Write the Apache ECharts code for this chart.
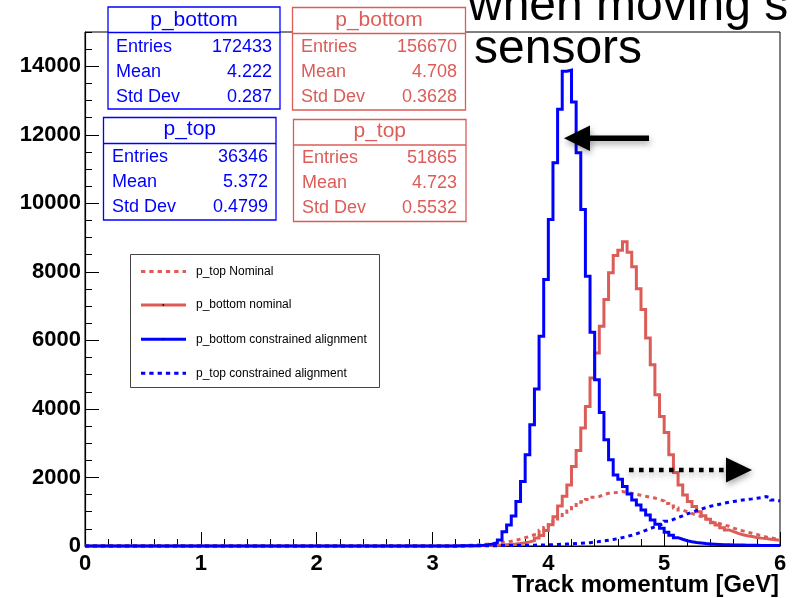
<!DOCTYPE html>
<html>
<head>
<meta charset="utf-8">
<script src="https://cdn.jsdelivr.net/npm/echarts/dist/echarts.min.js"></script>
<style>
  html, body { margin: 0; padding: 0; background: #ffffff; }
  #chart { width: 796px; height: 598px; }
</style>
</head>
<body>
<div id="chart"></div>
<script>
// Histogram binning: 150 bins of 0.04 GeV between 0 and 6 GeV
const xMin = 0;
const xMax = 6;
const binWidth = 0.04;

// Bin contents, one value per bin (bins 0..79 are empty, bins 80..149 cover 3.20-6.00 GeV)
const pTopNominal = [
  0,0,0,0,0,0,0,0,0,0, 0,0,0,0,0,0,0,0,0,0, 0,0,0,0,0,0,0,0,0,0, 0,0,0,0,0,0,0,0,0,0,
  0,0,0,0,0,0,0,0,0,0, 0,0,0,0,0,0,0,0,0,0, 0,0,0,0,0,0,0,0,0,0, 0,0,0,0,0,0,0,0,0,0,
  10, 15, 20, 25, 35, 45, 55, 70, 85, 100,
  120, 140, 170, 200, 240, 280, 330, 390, 460, 540,
  620, 720, 820, 920, 1020, 1120, 1210, 1290, 1360, 1420,
  1445, 1500, 1540, 1550, 1565, 1592, 1560, 1538, 1510, 1480,
  1450, 1426, 1400, 1360, 1310, 1240, 1170, 1110, 1050, 1000,
  950, 900, 862, 800, 750, 690, 650, 610, 578, 520,
  480, 440, 405, 370, 340, 300, 262, 240, 210, 190
];
const pBottomNominal = [
  0,0,0,0,0,0,0,0,0,0, 0,0,0,0,0,0,0,0,0,0, 0,0,0,0,0,0,0,0,0,0, 0,0,0,0,0,0,0,0,0,0,
  0,0,0,0,0,0,0,0,0,0, 0,0,0,0,0,0,0,0,0,0, 0,0,0,0,0,0,0,0,0,0, 0,0,0,0,0,0,0,0,0,0,
  3, 4, 5, 8, 10, 12, 15, 20, 25, 32,
  40, 50, 60, 75, 95, 120, 160, 230, 310, 450,
  620, 857, 1170, 1450, 1783, 2318, 2786, 3440, 4072, 4902,
  5633, 6410, 7191, 7971, 8477, 8632, 8877, 8574, 8147, 7504,
  6899, 6071, 5291, 4414, 3780, 3312, 2660, 2143, 1783, 1491,
  1296, 1150, 1003, 886, 780, 682, 614, 535, 468, 418,
  370, 330, 300, 275, 250, 230, 215, 200, 185, 170
];
const pBottomAligned = [
  0,0,0,0,0,0,0,0,0,0, 0,0,0,0,0,0,0,0,0,0, 0,0,0,0,0,0,0,0,0,0, 0,0,0,0,0,0,0,0,0,0,
  0,0,0,0,0,0,0,0,0,0, 0,0,0,0,0,0,0,0,0,0, 0,0,0,0,0,0,0,0,0,0, 0,0,0,0,0,0,0,0,0,0,
  5, 5, 10, 10, 15, 25, 40, 60, 100, 175,
  418, 614, 877, 1295, 1880, 2660, 3537, 4581, 6118, 7776,
  9530, 11187, 12745, 13856, 13885, 12960, 11478, 9822, 7873, 6236,
  4852, 3897, 3099, 2514, 2075, 1950, 1734, 1520, 1345, 1199,
  1052, 906, 760, 634, 517, 400, 313, 243, 196, 155,
  125, 100, 85, 70, 60, 52, 45, 40, 36, 32,
  30, 27, 25, 22, 20, 18, 16, 15, 14, 12
];
const pTopAligned = [
  0,0,0,0,0,0,0,0,0,0, 0,0,0,0,0,0,0,0,0,0, 0,0,0,0,0,0,0,0,0,0, 0,0,0,0,0,0,0,0,0,0,
  0,0,0,0,0,0,0,0,0,0, 0,0,0,0,0,0,0,0,0,0, 0,0,0,0,0,0,0,0,0,0, 0,0,0,0,0,0,0,0,0,0,
  3, 3, 4, 5, 6, 7, 8, 10, 11, 12,
  14, 15, 17, 19, 21, 23, 25, 28, 31, 35,
  39, 44, 50, 56, 62, 70, 78, 88, 98, 112,
  130, 148, 168, 190, 215, 245, 278, 312, 355, 405,
  455, 510, 560, 605, 660, 720, 775, 830, 880, 935,
  985, 1030, 1080, 1120, 1160, 1190, 1220, 1250, 1275, 1300,
  1320, 1345, 1360, 1375, 1395, 1410, 1440, 1405, 1345, 1315
];

// Axis ticks
const xTicks = ['0', '1', '2', '3', '4', '5', '6'];
const yMax = 15000;
const yMajorStep = 2000;
const yMinorStep = 500;

// Legend and statistics boxes
const legendNames = ['p_top Nominal', 'p_bottom nominal', 'p_bottom constrained alignment', 'p_top constrained alignment'];
const statTitles = ['p_bottom', 'p_bottom', 'p_top', 'p_top'];
const statEntries = ['172433', '156670', '36346', '51865'];
const statMeans = ['4.222', '4.708', '5.372', '4.723'];
const statStdDevs = ['0.287', '0.3628', '0.4799', '0.5532'];
const statRowLabels = ['Entries', 'Mean', 'Std Dev'];
const axisTitle = 'Track momentum [GeV]';
const slideLines = ['when moving s', 'sensors'];

const RED = '#dc5c58';
const BLUE = '#0000ff';
const FONT = "'Liberation Sans', Arial, Helvetica, sans-serif";

// Outline of a histogram: one point per lower bin edge, plus the upper edge of the last bin
function histOutline(counts) {
  const pts = counts.map((v, i) => [xMin + i * binWidth, v]);
  pts.push([xMax, counts[counts.length - 1]]);
  return pts;
}

const seriesDefs = [
  { name: legendNames[0], data: pTopNominal, color: RED, dash: [4, 4] },
  { name: legendNames[1], data: pBottomNominal, color: RED, dash: 'solid' },
  { name: legendNames[2], data: pBottomAligned, color: BLUE, dash: 'solid' },
  { name: legendNames[3], data: pTopAligned, color: BLUE, dash: [4, 4] }
];

const chart = echarts.init(document.getElementById('chart'), null, { renderer: 'canvas' });

// Statistics box drawing helper
function statBox(b, i, color) {
  const els = [];
  els.push({ type: 'rect', shape: { x: b.x, y: b.y, width: b.w, height: b.h },
    style: { fill: '#fff', stroke: color, lineWidth: 1.3 }, z: 100 });
  els.push({ type: 'line', shape: { x1: b.x, y1: b.div, x2: b.x + b.w, y2: b.div },
    style: { stroke: color, lineWidth: 1.3 }, z: 101 });
  els.push({ type: 'text', z: 102, style: { text: statTitles[i], x: b.x + b.w / 2, y: b.titleY,
    align: 'center', verticalAlign: 'middle', font: '21px ' + FONT, fill: color } });
  const vals = [statEntries[i], statMeans[i], statStdDevs[i]];
  for (let r = 0; r < 3; r++) {
    els.push({ type: 'text', z: 102, style: { text: statRowLabels[r], x: b.lx, y: b.rows[r],
      align: 'left', verticalAlign: 'middle', font: '18px ' + FONT, fill: color } });
    els.push({ type: 'text', z: 102, style: { text: vals[r], x: b.rx, y: b.rows[r],
      align: 'right', verticalAlign: 'middle', font: '18px ' + FONT, fill: color } });
  }
  return els;
}

const boxes = [
  { x: 108, y: 7, w: 172, h: 102, div: 32.5, titleY: 20, rows: [47, 72, 97], lx: 116, rx: 272 },
  { x: 292.5, y: 7.5, w: 173, h: 102.5, div: 33.5, titleY: 20.5, rows: [47.5, 72.5, 97.5], lx: 301, rx: 457 },
  { x: 103.5, y: 117.5, w: 172.5, h: 102.5, div: 143.5, titleY: 129.5, rows: [157, 182, 207], lx: 112, rx: 268 },
  { x: 293.5, y: 119.5, w: 172.5, h: 102, div: 145, titleY: 131.5, rows: [158.5, 183.5, 208.5], lx: 302, rx: 457 }
];
const boxColors = [BLUE, RED, BLUE, RED];

let graphics = [];
boxes.forEach((b, i) => { graphics = graphics.concat(statBox(b, i, boxColors[i])); });

// Legend box
const legendRows = [271.5, 305, 339.3, 373.3];
graphics.push({ type: 'rect', z: 100, shape: { x: 130.5, y: 254.5, width: 249, height: 133 },
  style: { fill: '#fff', stroke: '#444', lineWidth: 1 } });
seriesDefs.forEach((s, i) => {
  graphics.push({ type: 'line', z: 101, shape: { x1: 141, y1: legendRows[i], x2: 186, y2: legendRows[i] },
    style: { stroke: s.color, lineWidth: 3, lineDash: s.dash === 'solid' ? null : [4.3, 4], lineCap: 'butt' } });
  if (s.dash === 'solid') {
    graphics.push({ type: 'rect', z: 102, shape: { x: 162.5, y: legendRows[i] - 0.8, width: 1.6, height: 1.6 },
      style: { fill: '#000' } });
  }
  graphics.push({ type: 'text', z: 102, style: { text: s.name, x: 196, y: legendRows[i],
    align: 'left', verticalAlign: 'middle', font: '12px ' + FONT, fill: '#000' } });
});

// Axis title
graphics.push({ type: 'text', z: 102, style: { text: axisTitle, x: 779, y: 585,
  align: 'right', verticalAlign: 'middle', font: 'bold 23.8px ' + FONT, fill: '#000' } });

// Slide caption laid over the plot (first line runs off the top edge)
graphics.push({ type: 'text', z: 102, style: { text: slideLines[0], x: 468, y: -17,
  align: 'left', verticalAlign: 'top', font: '48px ' + FONT, fill: '#000' } });
graphics.push({ type: 'text', z: 102, style: { text: slideLines[1], x: 474, y: 26,
  align: 'left', verticalAlign: 'top', font: '48px ' + FONT, fill: '#000' } });

// Arrows
const shadow = { shadowColor: 'rgba(0,0,0,0.35)', shadowBlur: 6, shadowOffsetX: 1, shadowOffsetY: 3 };
graphics.push({ type: 'rect', z: 103, shape: { x: 587, y: 135.5, width: 62, height: 5.5 },
  style: Object.assign({ fill: '#000' }, shadow) });
graphics.push({ type: 'polygon', z: 103, shape: { points: [[564, 138.3], [590, 125.5], [590, 151]] },
  style: Object.assign({ fill: '#000' }, shadow) });
graphics.push({ type: 'line', z: 103, shape: { x1: 629, y1: 470, x2: 727, y2: 470 },
  style: Object.assign({ stroke: '#000', lineWidth: 4.6, lineDash: [4.6, 5.4], lineCap: 'butt' }, shadow) });
graphics.push({ type: 'polygon', z: 103, shape: { points: [[726, 457.5], [752, 470], [726, 482.5]] },
  style: Object.assign({ fill: '#000' }, shadow) });

const axisFont = { fontFamily: FONT, fontWeight: 'bold', fontSize: 22, color: '#000' };

chart.setOption({
  animation: false,
  backgroundColor: '#ffffff',
  grid: { left: 85, right: 16, top: 32, bottom: 52, show: true, borderColor: '#000', borderWidth: 1,
    containLabel: false, outerBoundsMode: 'none' },
  xAxis: {
    type: 'value', min: xMin, max: xMax, interval: 1,
    axisLine: { show: true, onZero: false, lineStyle: { color: '#000', width: 1.2 } },
    axisTick: { show: true, inside: true, length: 14, lineStyle: { color: '#000', width: 1 } },
    minorTick: { show: true, splitNumber: 5, length: 7, lineStyle: { color: '#000', width: 1 } },
    splitLine: { show: false },
    axisLabel: Object.assign({ margin: 7, formatter: (v) => xTicks[Math.round(v)] }, axisFont)
  },
  yAxis: [
    {
      type: 'value', min: 0, max: yMax, interval: yMajorStep,
      axisLine: { show: true, lineStyle: { color: '#000', width: 1.2 } },
      axisTick: { show: true, inside: true, length: 14, lineStyle: { color: '#000', width: 1 } },
      splitLine: { show: false },
      axisLabel: Object.assign({ margin: 4, showMaxLabel: false, formatter: (v) => String(v) }, axisFont)
    },
    {
      type: 'value', min: 0, max: yMax, interval: yMinorStep, position: 'left', offset: 0,
      axisLine: { show: false },
      axisTick: { show: true, inside: true, length: 7, lineStyle: { color: '#000', width: 1 } },
      splitLine: { show: false },
      axisLabel: { show: false }
    }
  ],
  series: seriesDefs.map((s, i) => ({
    name: s.name,
    type: 'line',
    step: 'end',
    yAxisIndex: 0,
    data: histOutline(s.data),
    symbol: 'none',
    showSymbol: false,
    clip: false,
    silent: true,
    z: 2 + i,
    lineStyle: { color: s.color, width: 3, type: s.dash, cap: 'butt', join: 'miter' }
  })),
  graphic: graphics
});
</script>
</body>
</html>
